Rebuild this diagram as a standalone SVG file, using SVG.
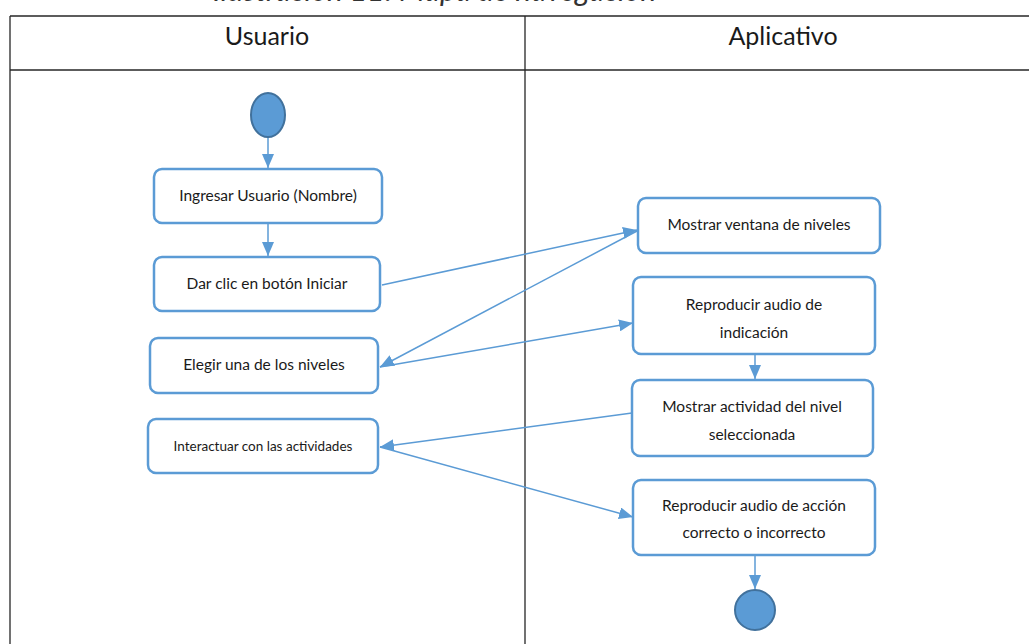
<svg xmlns="http://www.w3.org/2000/svg" width="1029" height="644" viewBox="0 0 1029 644">
<defs>
<style>
.grid{stroke:#262626;stroke-width:1.3;fill:none}
.node rect{fill:#fff;stroke:#5b9bd5;stroke-width:2.5}
.lbl{font-family:Lato,"Liberation Sans",sans-serif;font-size:15.5px;fill:#1a1a1a;text-anchor:middle}
.hdr{font-family:Lato,"Liberation Sans",sans-serif;font-size:25px;fill:#1a1a1a;text-anchor:middle}
.edge{stroke:#5b9bd5;stroke-width:1.5;fill:none;marker-end:url(#arr)}
.dot{fill:#5b9bd5;stroke:#41719c;stroke-width:2}
</style>
<marker id="arr" viewBox="0 0 14 12" refX="14" refY="6" markerWidth="14" markerHeight="12" markerUnits="userSpaceOnUse" orient="auto">
<path d="M0,0 L14,6 L0,12 Z" fill="#5b9bd5"/>
</marker>
</defs>
<rect width="1029" height="644" fill="#fff"/>
<text x="213" y="1" font-family="Lato,'Liberation Sans',sans-serif" font-style="italic" font-size="30" fill="#333">Ilustración 11: Mapa de navegación</text>
<g id="table">
<line class="grid" x1="10" y1="16" x2="1029" y2="16"/>
<line class="grid" x1="10" y1="70" x2="1029" y2="70"/>
<line class="grid" x1="10" y1="16" x2="10" y2="644"/>
<line class="grid" x1="525" y1="16" x2="525" y2="644"/>
<text class="hdr" x="267" y="45">Usuario</text>
<text class="hdr" x="783" y="45">Aplicativo</text>
</g>
<g id="connectors">
<line class="edge" x1="268" y1="138" x2="268" y2="168"/>
<line class="edge" x1="268" y1="224" x2="268" y2="256"/>
<line class="edge" x1="382" y1="285" x2="637" y2="230"/>
<line class="edge" x1="637" y1="231" x2="380" y2="367"/>
<line class="edge" x1="380" y1="367" x2="633" y2="323"/>
<line class="edge" x1="632" y1="413" x2="380" y2="447"/>
<line class="edge" x1="380" y1="447" x2="633" y2="517"/>
<line class="edge" x1="755" y1="355" x2="755" y2="379"/>
<line class="edge" x1="755" y1="556" x2="755" y2="589"/>
</g>
<g id="start"><ellipse class="dot" cx="268" cy="115" rx="17" ry="22"/></g>
<g id="n1" class="node"><rect x="154" y="169" width="228" height="54" rx="8"/><text class="lbl" x="268" y="201">Ingresar Usuario (Nombre)</text></g>
<g id="n2" class="node"><rect x="154" y="257" width="226" height="54" rx="8"/><text class="lbl" x="267" y="289">Dar clic en botón Iniciar</text></g>
<g id="n3" class="node"><rect x="150" y="338" width="228" height="55" rx="8"/><text class="lbl" x="264" y="370">Elegir una de los niveles</text></g>
<g id="n4" class="node"><rect x="148" y="419" width="230" height="54" rx="8"/><text class="lbl" x="263" y="451" style="font-size:13.5px">Interactuar con las actividades</text></g>
<g id="n5" class="node"><rect x="638" y="198" width="242" height="55" rx="8"/><text class="lbl" x="759" y="230">Mostrar ventana de niveles</text></g>
<g id="n6" class="node"><rect x="633" y="277" width="242" height="77" rx="8"/><text class="lbl" x="754" y="310">Reproducir audio de</text><text class="lbl" x="754" y="338">indicación</text></g>
<g id="n7" class="node"><rect x="632" y="380" width="241" height="76" rx="8"/><text class="lbl" x="752" y="412">Mostrar actividad del nivel</text><text class="lbl" x="752" y="440">seleccionada</text></g>
<g id="n8" class="node"><rect x="633" y="480" width="242" height="75" rx="8"/><text class="lbl" x="754" y="511">Reproducir audio de acción</text><text class="lbl" x="754" y="538">correcto o incorrecto</text></g>
<g id="end"><circle class="dot" cx="755" cy="610" r="20"/></g>
</svg>
